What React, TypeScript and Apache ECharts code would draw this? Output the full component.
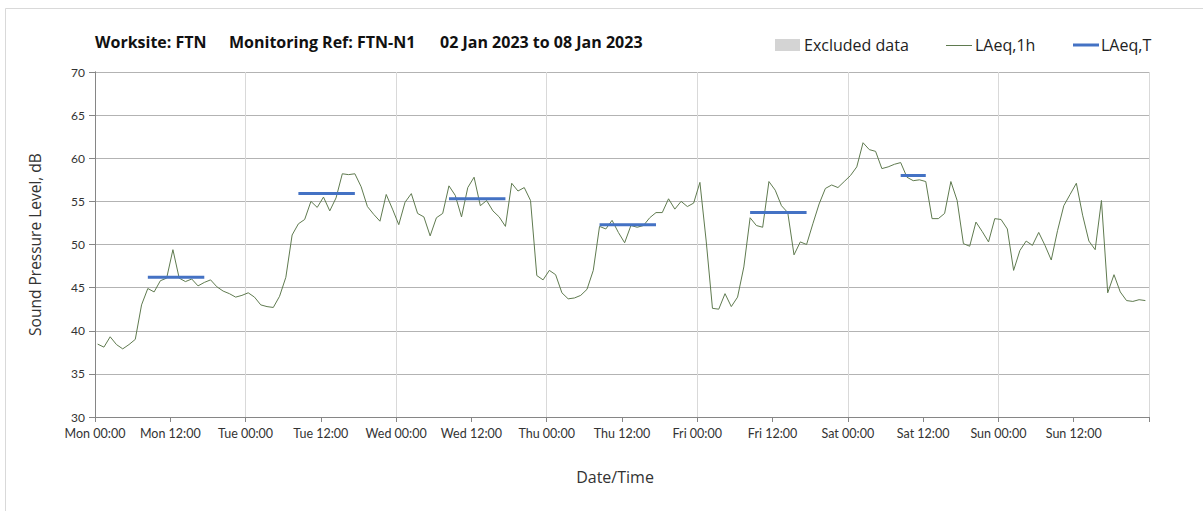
import React, { useEffect, useRef } from "react";
import * as echarts from "echarts";

const dayNames = ["Mon", "Tue", "Wed", "Thu", "Fri", "Sat", "Sun"];
const hourLabels = ["00:00", "12:00"];
const yTicks = { min: 30, max: 70, step: 5 };

// Hourly LAeq,1h values, Mon 00:00 .. Sun 23:00
const laeq1h: number[] = [
  38.45, 38.1, 39.3, 38.4, 37.9, 38.4, 39.0, 43.0, 44.9, 44.5,
  45.8, 46.1, 49.4, 46.1, 45.7, 46.0, 45.2, 45.6, 45.9, 45.1,
  44.6, 44.3, 43.9, 44.1, 44.4, 43.9, 43.0, 42.8, 42.7, 44.0,
  46.2, 51.1, 52.4, 52.9, 55.0, 54.3, 55.5, 53.9, 55.4, 58.2,
  58.1, 58.2, 56.7, 54.4, 53.5, 52.7, 55.8, 54.1, 52.3, 54.9,
  55.9, 53.6, 53.2, 51.0, 53.1, 53.6, 56.8, 55.7, 53.2, 56.6,
  57.8, 54.5, 55.1, 53.9, 53.2, 52.1, 57.1, 56.2, 56.6, 55.1,
  46.4, 45.9, 47.0, 46.5, 44.4, 43.7, 43.8, 44.1, 44.8, 47.0,
  52.1, 51.8, 52.8, 51.4, 50.2, 52.2, 52.0, 52.2, 53.1, 53.7,
  53.7, 55.3, 54.1, 55.0, 54.4, 54.8, 57.2, 50.4, 42.6, 42.5,
  44.3, 42.8, 43.9, 47.4, 53.1, 52.2, 52.0, 57.3, 56.3, 54.5,
  53.7, 48.8, 50.3, 50.0, 52.4, 54.7, 56.5, 56.9, 56.6, 57.3,
  58.0, 59.0, 61.8, 61.0, 60.8, 58.8, 59.0, 59.3, 59.5, 57.8,
  57.4, 57.5, 57.3, 53.0, 53.0, 53.6, 57.3, 55.1, 50.1, 49.8,
  52.6, 51.5, 50.3, 53.0, 52.9, 51.8, 47.0, 49.3, 50.4, 49.9,
  51.4, 49.9, 48.2, 51.6, 54.5, 55.8, 57.1, 53.4, 50.4, 49.4,
  55.1, 44.4, 46.5, 44.5, 43.5, 43.4, 43.6, 43.5,
];

// LAeq,T daytime periods (hour index from Mon 00:00)
const periodStart: number[] = [8, 32, 56, 80, 104, 128];
const periodEnd: number[] = [17, 41, 65, 89, 113, 132];
const periodValue: number[] = [46.2, 55.9, 55.3, 52.3, 53.7, 58.0];

const sampleOffsetHours = 0.42;
const totalHours = 168;

const FONT = "Lato, 'Open Sans', sans-serif";
const FONT2 = "'Open Sans', Lato, sans-serif";

export default function App() {
  const ref = useRef<HTMLDivElement>(null);
  useEffect(() => {
    if (!ref.current) return;
    const chart = echarts.init(ref.current, null, { renderer: "svg" });

    const lineData = laeq1h.map((v, i) => [i + sampleOffsetHours, v]);
    const tData: (number | null)[][] = [];
    periodStart.forEach((s, k) => {
      for (let h = s; h <= periodEnd[k]; h++) tData.push([h + sampleOffsetHours, periodValue[k]]);
      tData.push([periodEnd[k] + sampleOffsetHours + 0.5, null]);
    });

    chart.setOption({
      animation: false,
      textStyle: { fontFamily: FONT },
      grid: { left: 95, right: 54, top: 72, bottom: 94 },
      xAxis: [
        {
          type: "value",
          min: 0,
          max: totalHours,
          interval: 12,
          name: "Date/Time",
          nameLocation: "middle",
          nameGap: 52,
          nameTextStyle: { fontSize: 16, color: "#333", fontFamily: FONT2, padding: [0, 14, 0, 0] },
          axisLine: { show: true, lineStyle: { color: "#868686", width: 1 } },
          axisTick: { show: true, length: 5, lineStyle: { color: "#868686" } },
          axisLabel: {
            fontSize: 12.5,
            color: "#333",
            margin: 10,
            fontFamily: FONT,
            formatter: (v: number) => {
              if (v >= totalHours) return "";
              const d = Math.floor(v / 24);
              return dayNames[d] + " " + hourLabels[(v % 24) / 12];
            },
          },
          splitLine: { show: false },
        },
        {
          type: "value",
          min: 0,
          max: totalHours,
          interval: 24,
          position: "bottom",
          axisLine: { show: false },
          axisTick: { show: false },
          axisLabel: { show: false },
          splitLine: { show: true, lineStyle: { color: "#d9d9d9", width: 1 } },
        },
      ],
      yAxis: [
        {
          type: "value",
          min: yTicks.min,
          max: yTicks.max,
          interval: yTicks.step,
          name: "Sound Pressure Level, dB",
          nameLocation: "middle",
          nameGap: 52,
          nameTextStyle: { fontSize: 15.5, color: "#333", fontFamily: FONT2 },
          axisLine: { show: true, lineStyle: { color: "#868686" } },
          axisTick: { show: true, length: 6, lineStyle: { color: "#868686" } },
          axisLabel: { fontSize: 12, color: "#333", margin: 10, fontFamily: FONT },
          splitLine: { show: true, lineStyle: { color: "#b3b3b3", width: 1 } },
        },
        {
          type: "value",
          min: yTicks.min,
          max: yTicks.max,
          interval: yTicks.step,
          position: "right",
          axisLine: { show: true, lineStyle: { color: "#868686" } },
          axisTick: { show: false },
          axisLabel: { show: false },
          splitLine: { show: false },
        },
      ],
      series: [
        {
          name: "LAeq,1h",
          type: "line",
          data: lineData,
          showSymbol: false,
          symbol: "none",
          lineStyle: { color: "#5f7a4f", width: 1 },
          z: 3,
        },
        {
          name: "LAeq,T",
          type: "line",
          data: tData,
          showSymbol: false,
          symbol: "none",
          connectNulls: false,
          lineStyle: { color: "#4472c4", width: 3, cap: "butt" },
          z: 4,
        },
      ],
      graphic: [
        {
          type: "rect",
          shape: { x: 5.5, y: 8.5, width: 1300, height: 600 },
          style: { fill: "none", stroke: "#d9d9d9", lineWidth: 1 },
          silent: true,
        },
        {
          type: "text",
          x: 95,
          y: 42,
          style: { text: "Worksite: FTN", font: `bold 16px ${FONT2}`, fill: "#111", textVerticalAlign: "middle" },
        },
        {
          type: "text",
          x: 229,
          y: 42,
          style: { text: "Monitoring Ref: FTN-N1", font: `bold 16px ${FONT2}`, fill: "#111", textVerticalAlign: "middle" },
        },
        {
          type: "text",
          x: 440,
          y: 42,
          style: { text: "02 Jan 2023 to 08 Jan 2023", font: `bold 16px ${FONT2}`, fill: "#111", textVerticalAlign: "middle" },
        },
        {
          type: "rect",
          shape: { x: 775, y: 39, width: 25, height: 12 },
          style: { fill: "#d4d4d4" },
        },
        {
          type: "text",
          x: 804,
          y: 45,
          style: { text: "Excluded data", font: `16px ${FONT2}`, fill: "#222", textVerticalAlign: "middle" },
        },
        {
          type: "line",
          shape: { x1: 946, y1: 45.5, x2: 972, y2: 45.5 },
          style: { stroke: "#5f7a4f", lineWidth: 1 },
        },
        {
          type: "text",
          x: 975,
          y: 45,
          style: { text: "LAeq,1h", font: `16px ${FONT2}`, fill: "#222", textVerticalAlign: "middle" },
        },
        {
          type: "line",
          shape: { x1: 1073, y1: 45, x2: 1099, y2: 45 },
          style: { stroke: "#4472c4", lineWidth: 3 },
        },
        {
          type: "text",
          x: 1101,
          y: 45,
          style: { text: "LAeq,T", font: `16px ${FONT2}`, fill: "#222", textVerticalAlign: "middle" },
        },
      ],
    });
    return () => chart.dispose();
  }, []);
  return (
    <div
      ref={ref}
      style={{ position: "fixed", left: 0, top: 0, width: 1203, height: 511, background: "#fff" }}
    />
  );
}
